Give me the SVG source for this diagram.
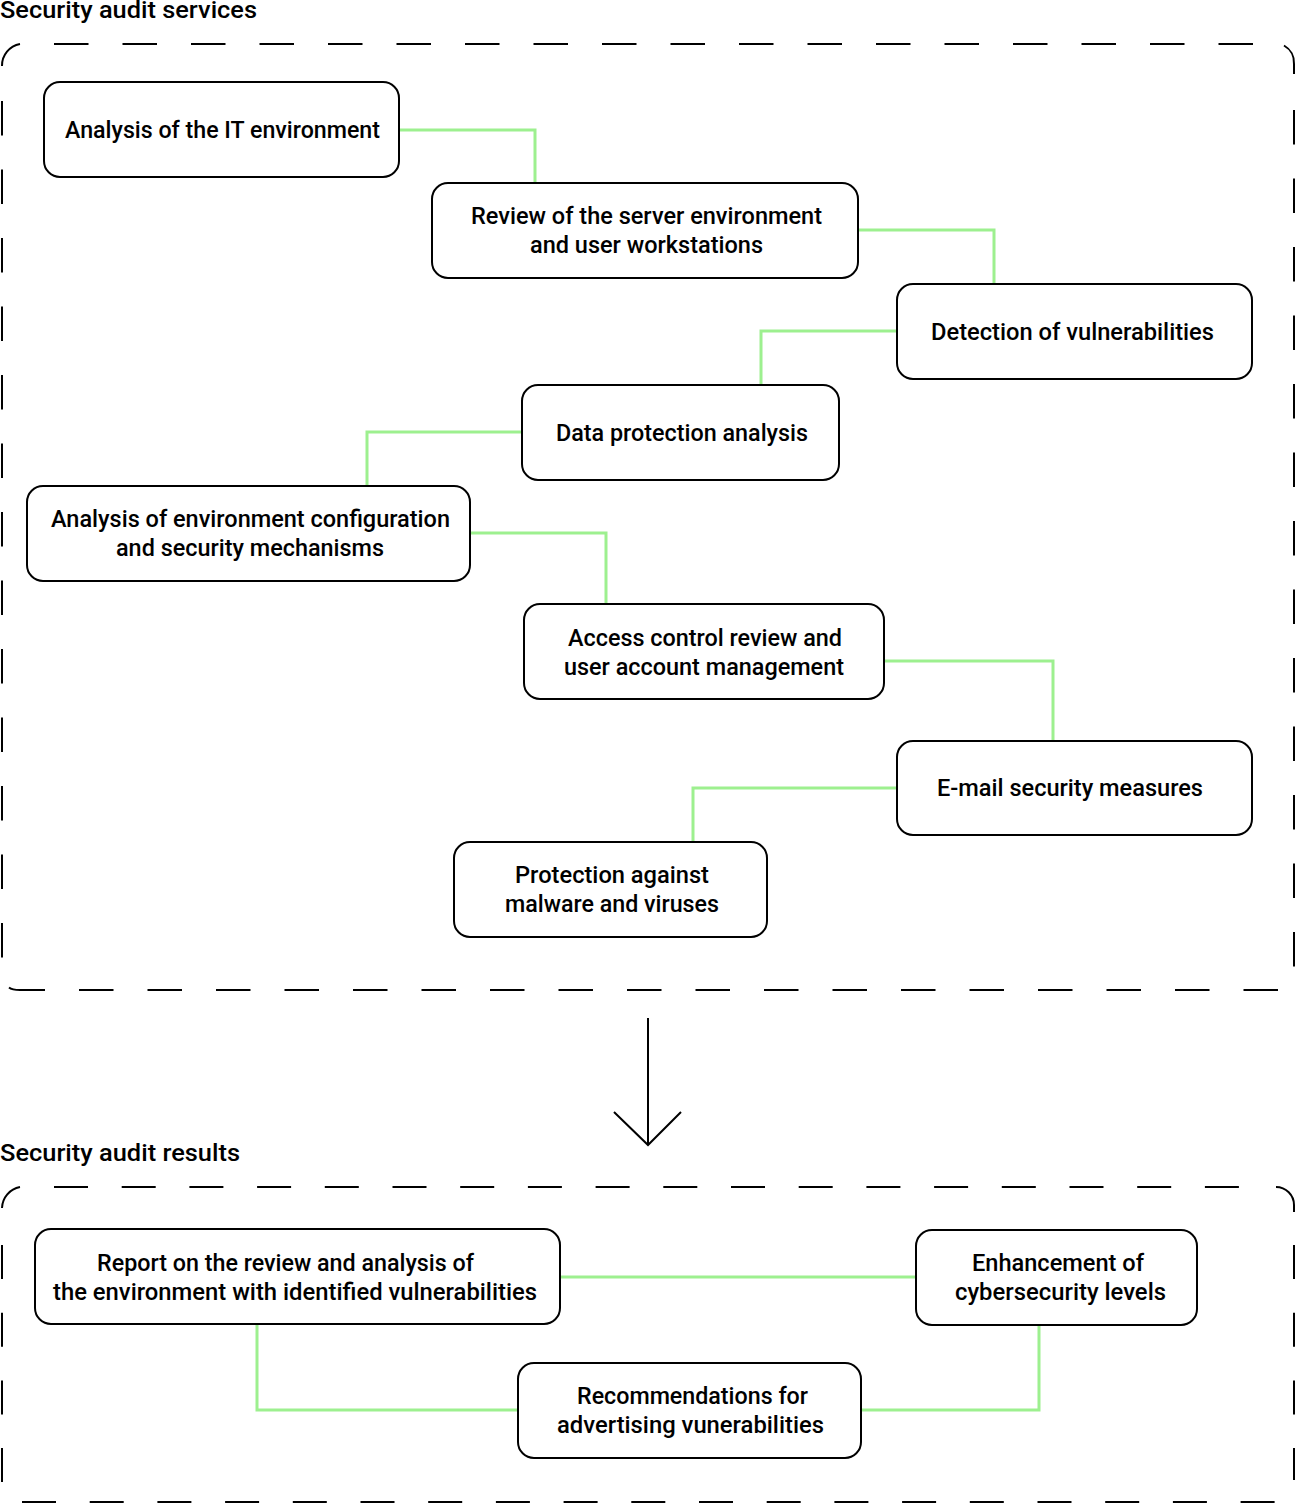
<svg xmlns="http://www.w3.org/2000/svg" width="1296" height="1509" viewBox="0 0 1296 1509">
<style>
.bg{fill:#ffffff}
.node rect{fill:#ffffff;stroke:#000000;stroke-width:2}
.node text,.title{font-family:Roboto,"Liberation Sans",sans-serif;font-weight:500;font-size:23px;fill:#000000}
.dash{fill:none;stroke:#000000;stroke-width:2}
.d1{stroke-dasharray:34.5 34}
.d2{stroke-dasharray:34 33.7}
.conn path{fill:none;stroke:#9df08f;stroke-width:3}
.arrow{fill:none;stroke:#000000;stroke-width:2}
</style>
<rect class="bg" x="0" y="0" width="1296" height="1509"/>
<text class="title" x="0" y="18" textLength="257" lengthAdjust="spacingAndGlyphs">Security audit services</text>
<text class="title" x="0" y="1161" textLength="240" lengthAdjust="spacingAndGlyphs">Security audit results</text>

<g id="frame-services">
<line class="dash d1" x1="54" y1="44" x2="1270" y2="44"/>
<path class="dash" d="M2,66 A22,22 0 0 1 20,44"/>
<path class="dash" d="M1284,45.5 A20,20 0 0 1 1294,64 L1294,74"/>
<line class="dash d1" x1="2" y1="101" x2="2" y2="970"/>
<line class="dash d1" x1="1294" y1="110" x2="1294" y2="970"/>
<path class="dash" d="M9,987.5 Q12,990 20,990 L45,990"/>
<line class="dash d1" x1="79" y1="990" x2="1285" y2="990"/>
</g>

<g id="frame-results">
<line class="dash d2" x1="54" y1="1187" x2="1268" y2="1187"/>
<path class="dash" d="M2,1208 A22,22 0 0 1 20,1187"/>
<path class="dash" d="M1276,1187 A18,18 0 0 1 1294,1205 L1294,1212"/>
<line class="dash d2" x1="2" y1="1245" x2="2" y2="1485"/>
<line class="dash d2" x1="1294" y1="1245" x2="1294" y2="1480"/>
<line class="dash d2" x1="22" y1="1502" x2="1280" y2="1502"/>
</g>

<g id="connectors" class="conn">
<path d="M399,130 H535 V183"/>
<path d="M858,230 H994 V284"/>
<path d="M897,331 H761 V385"/>
<path d="M522,432 H367 V486"/>
<path d="M470,533 H606 V604"/>
<path d="M884,661 H1053 V741"/>
<path d="M897,788 H693 V842"/>
<path d="M560,1277 H916"/>
<path d="M257,1324 V1410 H518"/>
<path d="M1039,1325 V1410 H861"/>
</g>

<g id="arrow">
<line class="arrow" x1="648" y1="1018" x2="648" y2="1145"/>
<polyline class="arrow" points="614,1112 648,1145 681,1112"/>
</g>

<g id="n1" class="node">
<rect x="44" y="82" width="355" height="95" rx="16"/>
<text x="65" y="138" textLength="315" lengthAdjust="spacingAndGlyphs">Analysis of the IT environment</text>
</g>
<g id="n2" class="node">
<rect x="432" y="183" width="426" height="95" rx="16"/>
<text x="471" y="224" textLength="351" lengthAdjust="spacingAndGlyphs">Review of the server environment</text>
<text x="530" y="253" textLength="233" lengthAdjust="spacingAndGlyphs">and user workstations</text>
</g>
<g id="n3" class="node">
<rect x="897" y="284" width="355" height="95" rx="16"/>
<text x="931" y="340" textLength="283" lengthAdjust="spacingAndGlyphs">Detection of vulnerabilities</text>
</g>
<g id="n4" class="node">
<rect x="522" y="385" width="317" height="95" rx="16"/>
<text x="556" y="441" textLength="252" lengthAdjust="spacingAndGlyphs">Data protection analysis</text>
</g>
<g id="n5" class="node">
<rect x="27" y="486" width="443" height="95" rx="16"/>
<text x="51" y="527" textLength="399" lengthAdjust="spacingAndGlyphs">Analysis of environment configuration</text>
<text x="116" y="556" textLength="268" lengthAdjust="spacingAndGlyphs">and security mechanisms</text>
</g>
<g id="n6" class="node">
<rect x="524" y="604" width="360" height="95" rx="16"/>
<text x="568" y="646" textLength="274" lengthAdjust="spacingAndGlyphs">Access control review and</text>
<text x="564" y="675" textLength="280" lengthAdjust="spacingAndGlyphs">user account management</text>
</g>
<g id="n7" class="node">
<rect x="897" y="741" width="355" height="94" rx="16"/>
<text x="937" y="796" textLength="266" lengthAdjust="spacingAndGlyphs">E-mail security measures</text>
</g>
<g id="n8" class="node">
<rect x="454" y="842" width="313" height="95" rx="16"/>
<text x="515" y="883" textLength="194" lengthAdjust="spacingAndGlyphs">Protection against</text>
<text x="505" y="912" textLength="214" lengthAdjust="spacingAndGlyphs">malware and viruses</text>
</g>
<g id="n9" class="node">
<rect x="35" y="1229" width="525" height="95" rx="16"/>
<text x="97" y="1271" textLength="377" lengthAdjust="spacingAndGlyphs">Report on the review and analysis of</text>
<text x="53" y="1300" textLength="484" lengthAdjust="spacingAndGlyphs">the environment with identified vulnerabilities</text>
</g>
<g id="n10" class="node">
<rect x="916" y="1230" width="281" height="95" rx="16"/>
<text x="972" y="1271" textLength="172" lengthAdjust="spacingAndGlyphs">Enhancement of</text>
<text x="955" y="1300" textLength="211" lengthAdjust="spacingAndGlyphs">cybersecurity levels</text>
</g>
<g id="n11" class="node">
<rect x="518" y="1363" width="343" height="95" rx="16"/>
<text x="577" y="1404" textLength="231" lengthAdjust="spacingAndGlyphs">Recommendations for</text>
<text x="557" y="1433" textLength="267" lengthAdjust="spacingAndGlyphs">advertising vunerabilities</text>
</g>
</svg>
